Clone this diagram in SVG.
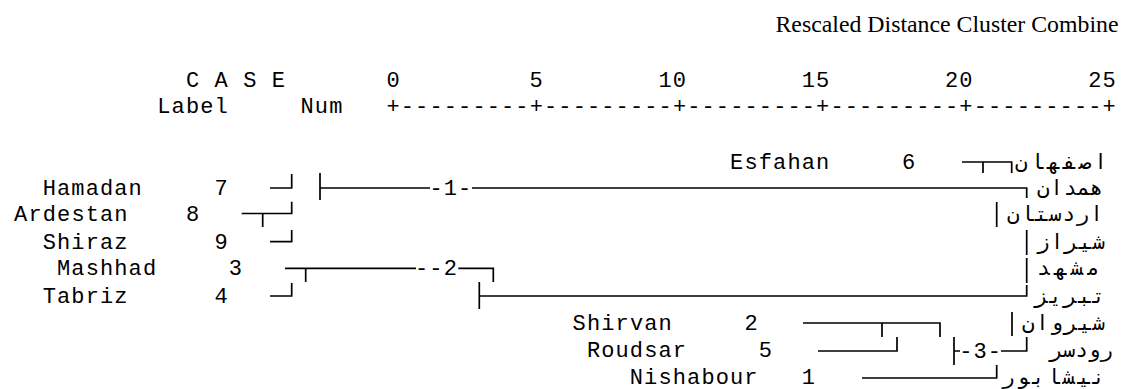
<svg xmlns="http://www.w3.org/2000/svg" width="1121" height="389" viewBox="0 0 1121 389">
<style>
.m{font-family:"Liberation Mono","Courier New",monospace;font-size:22px;letter-spacing:1.12px;fill:#000;white-space:pre}
.t{font-family:"Liberation Serif","Times New Roman",serif;font-size:23.8px;fill:#000}
.p{font-family:"DejaVu Sans Mono","DejaVu Sans",monospace;font-size:21px;fill:#000}
.c path{stroke:#000;stroke-width:1.7;fill:none}
</style>
<rect width="1121" height="389" fill="#fff"/>
<g id="header">
<text class="t" x="1118.5" y="32" text-anchor="end">Rescaled Distance Cluster Combine</text>
<text class="m" x="185.9" y="86.5" xml:space="preserve">C A S E       0         5        10        15        20        25</text>
<text class="m" x="157.3" y="113" xml:space="preserve">Label     Num   +---------+---------+---------+---------+---------+</text>
</g>
<g id="case-6"><text class="m" x="730.1" y="168.5" xml:space="preserve">Esfahan     6</text><text class="p" x="1015" y="168.5" textLength="92" lengthAdjust="spacing">اصفهان</text></g>
<g id="case-7"><text class="m" x="42.7" y="194.5" xml:space="preserve">Hamadan     7</text><text class="p" x="1037" y="194.5" textLength="66" lengthAdjust="spacing">همدان</text></g>
<g id="case-8"><text class="m" x="14.1" y="220.5" xml:space="preserve">Ardestan    8</text><text class="p" x="1007" y="220.5" textLength="96" lengthAdjust="spacing">اردستان</text></g>
<g id="case-9"><text class="m" x="42.7" y="248.5" xml:space="preserve">Shiraz      9</text><text class="p" x="1037" y="248.5" textLength="68" lengthAdjust="spacing">شیراز</text></g>
<g id="case-3"><text class="m" x="57.0" y="275" xml:space="preserve">Mashhad     3</text><text class="p" x="1037" y="275" textLength="63" lengthAdjust="spacing">مشهد</text></g>
<g id="case-4"><text class="m" x="42.7" y="302.5" xml:space="preserve">Tabriz      4</text><text class="p" x="1035" y="302.5" textLength="70" lengthAdjust="spacing">تبریز</text></g>
<g id="case-2"><text class="m" x="572.6" y="329.5" xml:space="preserve">Shirvan     2</text><text class="p" x="1022" y="329.5" textLength="83" lengthAdjust="spacing">شیروان</text></g>
<g id="case-5"><text class="m" x="586.9" y="357" xml:space="preserve">Roudsar     5</text><text class="p" x="1050" y="357" textLength="63" lengthAdjust="spacing">رودسر</text></g>
<g id="case-1"><text class="m" x="629.8" y="384" xml:space="preserve">Nishabour   1</text><text class="p" x="1002" y="384" textLength="103" lengthAdjust="spacing">نیشابور</text></g>
<g id="connectors" class="c">
<path d="M962 162H1011.7V173M983 162V173"/>
<path d="M270 188H291.7V174"/>
<path d="M320 173V200M320 188H430M472 188H1026.7V198"/>
<path d="M241.7 213.5H291.7V201.7M262.7 213.5V227"/>
<path d="M996.7 202V227"/>
<path d="M270 241.7H291.7V230M1026.7 230V255"/>
<path d="M285 268.3H416M305.7 268.3V282M458.3 268.3H493.3V282M1026.7 258V283"/>
<path d="M270 296H291.7V283M479.3 282V309M479.3 296H1026.7V285"/>
<path d="M803 323H940V337M882 323V337M1012 312V336"/>
<path d="M818 351H897V337M954 337V365M954 351H960M1001 351H1026.7V337"/>
<path d="M862 378H996.7V365"/>
<text class="m" x="429.4" y="194.5" xml:space="preserve">-1-</text>
<text class="m" x="415" y="275" xml:space="preserve">--2</text>
<text class="m" x="959.2" y="357.5" xml:space="preserve">-3-</text>
</g>
</svg>
